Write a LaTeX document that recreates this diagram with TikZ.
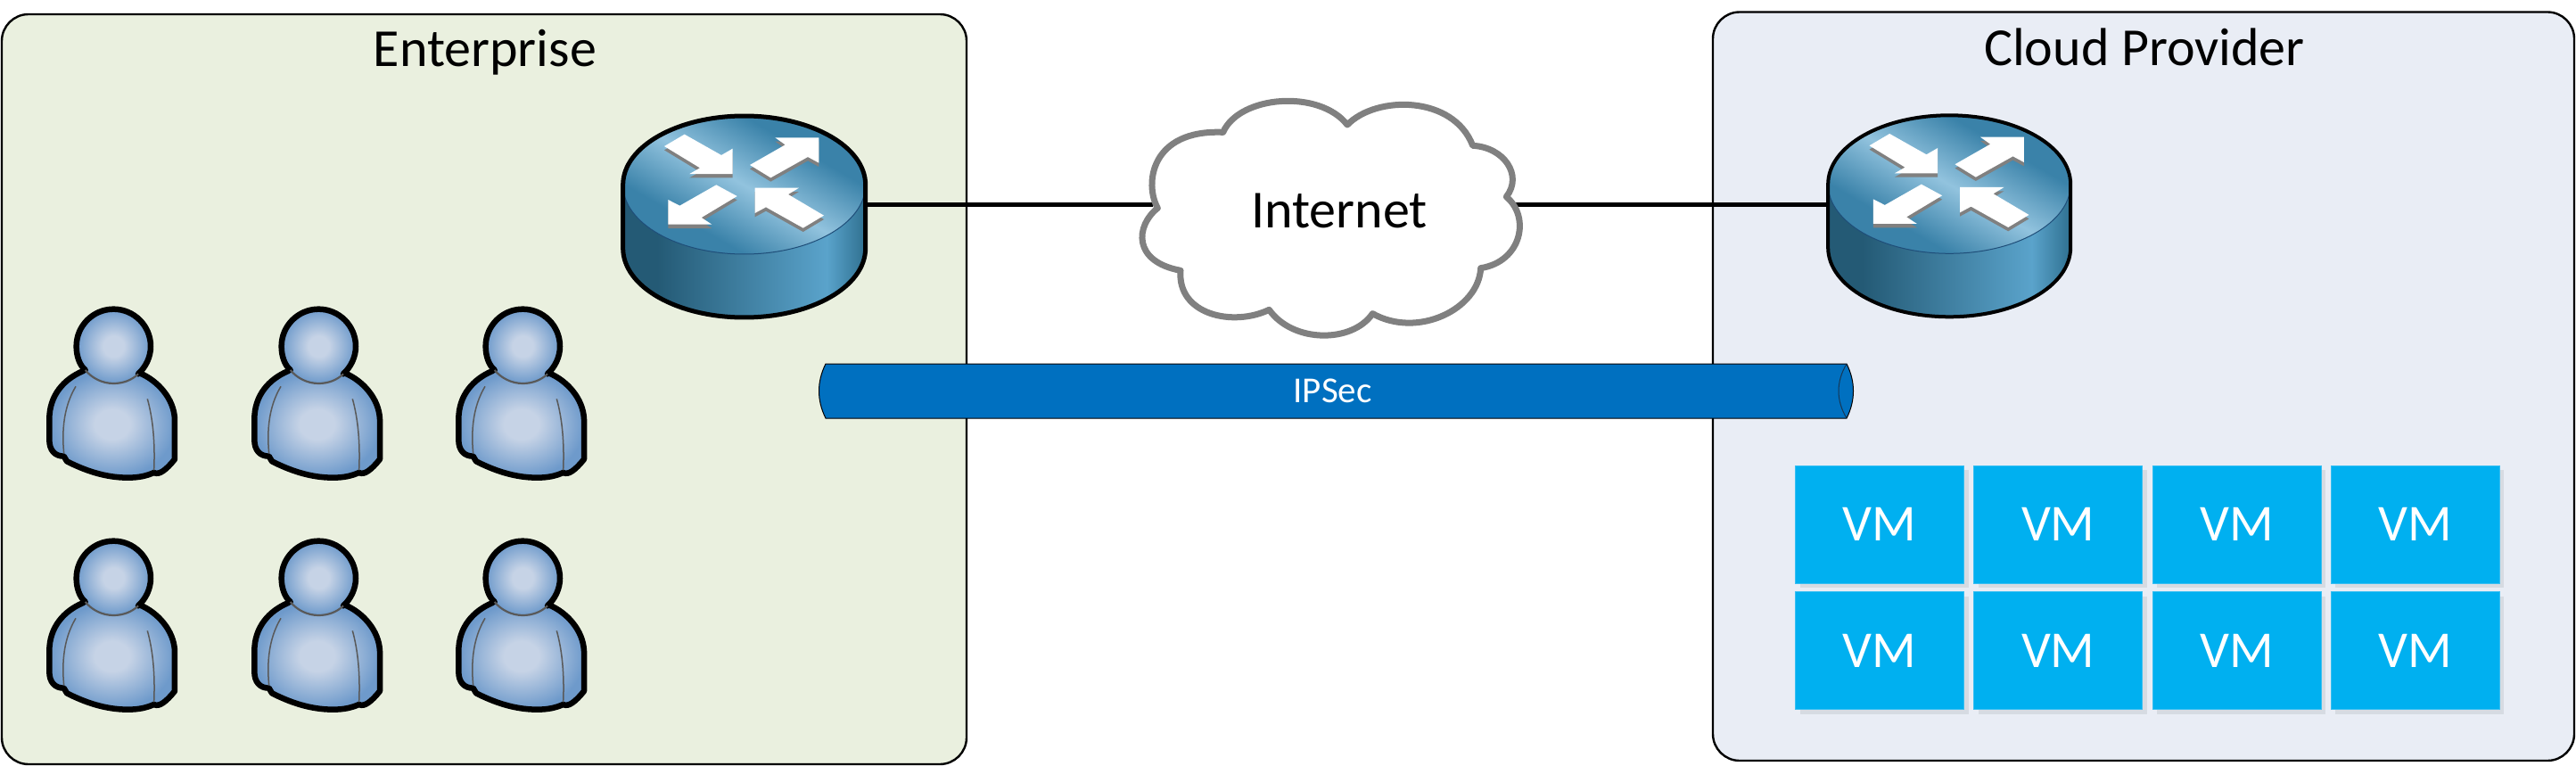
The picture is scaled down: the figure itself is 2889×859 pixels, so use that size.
\documentclass[tikz,border=0pt]{standalone}
\usepackage{fontspec}
\setmainfont{Carlito}
\usetikzlibrary{shadows}
\definecolor{entfill}{HTML}{EAF0DF}
\definecolor{cpfill}{HTML}{E9EDF5}
\definecolor{tubeblue}{HTML}{0070C0}
\definecolor{vmblue}{HTML}{00B0F0}
\definecolor{vmedge}{HTML}{38BFF2}
\definecolor{vmshadow}{HTML}{D6DBE2}
\definecolor{cloudgray}{HTML}{808080}
\definecolor{rdark}{HTML}{3A82A9}
\definecolor{rlight}{HTML}{92C3DE}
\definecolor{sidea}{HTML}{245A75}
\definecolor{sideb}{HTML}{5AA3CB}
\definecolor{sidec}{HTML}{2F7090}
\definecolor{rline}{HTML}{1F4E79}
\definecolor{pinner}{HTML}{C6D3E6}
\definecolor{pouter}{HTML}{6E9ACB}
\definecolor{pline}{HTML}{595959}
\pgfdeclareverticalshading{rtopsh}{100bp}{color(0bp)=(rdark); color(33bp)=(rdark); color(50bp)=(rlight); color(67bp)=(rdark); color(100bp)=(rdark)}
\pgfdeclarehorizontalshading{rsidesh}{100bp}{color(0bp)=(sidea); color(25bp)=(sidea); color(32bp)=(sidea); color(67bp)=(sideb); color(75bp)=(sidec); color(100bp)=(sidec)}
\pgfdeclareradialshading{persh}{\pgfpoint{0bp}{0bp}}{color(0bp)=(pinner); color(7bp)=(pinner); color(25bp)=(pouter); color(50bp)=(pouter)}
\tikzset{
  x=1pt,y=-1pt,
  region/.style={draw=black,line width=2.4pt,rounded corners=30pt,inner sep=0pt,outer sep=0pt},
  titletext/.style={anchor=base,font=\fontsize{60}{70}\selectfont,text=black,inner sep=0pt},
  vmbox/.style={draw=vmedge,line width=0.8pt,fill=vmblue,minimum width=189pt,minimum height=132pt,inner sep=0pt,text=white,font=\fontsize{58}{68}\selectfont,drop shadow={shadow xshift=5pt,shadow yshift=-5pt,fill=vmshadow,opacity=1}},
  hook/.style={inner sep=0pt,outer sep=0pt,minimum height=1pt},
  link/.style={draw=black,line width=5pt},
  arrowshadow/.style={fill=cloudgray},
  arrowface/.style={fill=white},
  router/.pic={
    \begin{scope}[scale=1/3]
      \path[shade,shading=rsidesh] (116,232) -- (116,445) .. controls (116,575) and (299,678) .. (524,678) .. controls (749,678) and (932,575) .. (932,445) -- (932,232) -- cycle;
      \path[shade,shading=rtopsh,shading angle=-30,draw=rline,line width=1pt] (116,232) .. controls (116,103) and (299,0) .. (524,0) .. controls (749,0) and (932,103) .. (932,232) .. controls (932,361) and (749,465) .. (524,465) .. controls (299,465) and (116,361) .. (116,232) -- cycle;
      \draw[black,line width=#1,line join=round] (116,445) -- (116,232) .. controls (116,103) and (299,0) .. (524,0) .. controls (749,0) and (932,103) .. (932,232) -- (932,445) .. controls (932,575) and (749,678) .. (524,678) .. controls (299,678) and (116,575) .. (116,445) -- cycle;
      \foreach \dy/\sty in {13/arrowshadow,0/arrowface}{
        \begin{scope}[yshift=-\dy*1pt]
        \fill[\sty] (255,102) -- (323,62) -- (447,132) -- (485,110) -- (485,195) -- (340,195) -- (375,175) -- cycle;
        \fill[\sty] (543,165) -- (662,97) -- (628,73) -- (775,73) -- (775,158) -- (738,138) -- (613,208) -- cycle;
        \fill[\sty] (500,270) -- (380,342) -- (415,365) -- (268,365) -- (268,282) -- (307,302) -- (430,232) -- cycle;
        \fill[\sty] (560,242) -- (708,242) -- (672,264) -- (792,335) -- (722,377) -- (597,307) -- (560,327) -- cycle;
        \end{scope}
      }
    \end{scope}
  },
  person/.pic={
    \begin{scope}[scale=1/3]
      \path[shade,shading=persh] (190,258) .. controls (125,285) and (76,340) .. (76,420) -- (76,490) .. controls (76,525) and (95,545) .. (125,545) -- (135,562) .. controls (190,590) and (260,617) .. (340,617) .. controls (380,617) and (405,610) .. (428,600) .. controls (445,610) and (470,590) .. (498,555) -- (498,420) .. controls (495,350) and (440,290) .. (380,265) -- cycle;
      \draw[black,line width=6.5pt,line join=round,line cap=round] (190,258) .. controls (125,285) and (76,340) .. (76,420) -- (76,490) .. controls (76,525) and (95,545) .. (125,545) -- (135,562) .. controls (190,590) and (260,617) .. (340,617) .. controls (380,617) and (405,610) .. (428,600) .. controls (445,610) and (470,590) .. (498,555) -- (498,420) .. controls (495,350) and (440,290) .. (380,265);
      \path[shade,shading=persh] (167,175) .. controls (167,106) and (223,50) .. (292,50) .. controls (361,50) and (417,106) .. (417,175) .. controls (417,244) and (361,300) .. (292,300) .. controls (223,300) and (167,244) .. (167,175) -- cycle;
      \draw[black,line width=6.5pt,line cap=round] (197,255) .. controls (177,238) and (167,207) .. (167,175) .. controls (167,106) and (223,50) .. (292,50) .. controls (361,50) and (417,106) .. (417,175) .. controls (417,212) and (400,245) .. (375,268);
      \draw[pline,line width=2.2pt] (197,255) .. controls (220,283) and (255,300) .. (292,300) .. controls (325,300) and (355,288) .. (375,268);
      \draw[pline,line width=1.5pt] (165,310) .. controls (135,360) and (115,430) .. (125,535);
      \draw[pline,line width=1.5pt] (406,352) .. controls (425,420) and (432,500) .. (428,592);
    \end{scope}
  },
}
\begin{document}
\begin{tikzpicture}
\useasboundingbox (0,0) rectangle (2889,859);
\node[region,fill=entfill,minimum width=1082pt,minimum height=841pt] (ent) at (543,436.5) {};
\node[region,fill=cpfill,minimum width=966pt,minimum height=839.5pt] (cp) at (2404,433.25) {};
\node[titletext] (enttitle) at (544,74.5) {Enterprise};
\node[titletext] (cptitle) at (2405,73.5) {Cloud Provider};
% connector anchors
\node[hook,minimum width=272pt] (r1) at (834,229) {};
\node[hook,minimum width=407pt] (net) at (1496.5,229) {};
\node[hook,minimum width=272pt] (r2) at (2185.5,229) {};
\draw[link] (r1.east) -- (net.west);
\draw[link] (net.east) -- (r2.west);
% routers
\pic (routerA) at (660,130) {router=5pt};
\pic (routerB) at (2011.5,129.3) {router=4pt};
% cloud
\begin{scope}[shift={(1250,90)},scale=1/3]
\draw[cloudgray,fill=white,line width=7pt,line join=round]
 (145,430) .. controls (100,350) and (120,165) .. (365,175)
 .. controls (420,50) and (690,30) .. (783,150)
 .. controls (880,50) and (1140,50) .. (1205,220)
 .. controls (1310,225) and (1375,320) .. (1318,392)
 .. controls (1400,460) and (1370,610) .. (1232,632)
 .. controls (1225,770) and (1020,870) .. (868,785)
 .. controls (800,885) and (600,885) .. (520,772)
 .. controls (400,830) and (210,790) .. (222,640)
 .. controls (60,610) and (70,490) .. (145,430) -- cycle;
\end{scope}
\node[anchor=base,font=\fontsize{60}{70}\selectfont,inner sep=0pt] (nettext) at (1502,255) {Internet};
% tunnel
\draw[black,line width=1pt,fill=tubeblue]
 (926,408) .. controls (916,428) and (916,449) .. (926,469) -- (2071,469)
 .. controls (2081,449) and (2081,428) .. (2071,408) -- cycle;
\draw[rline!70!black,line width=1pt] (2071,408) .. controls (2059,428) and (2059,449) .. (2071,469);
\node[anchor=base,font=\fontsize{41}{48}\selectfont,text=white,inner sep=0pt] (ipsec) at (1494.5,451) {IPSec};
% users
\pic (userA) at (30,330) {person};
\pic (userB) at (260,330) {person};
\pic (userC) at (489,330) {person};
\pic (userD) at (30,590) {person};
\pic (userE) at (260,590) {person};
\pic (userF) at (489,590) {person};
% VMs
\node[vmbox] (vmA) at (2108,588) {VM};
\node[vmbox] (vmB) at (2308.3,588) {VM};
\node[vmbox] (vmC) at (2508.6,588) {VM};
\node[vmbox] (vmD) at (2708.9,588) {VM};
\node[vmbox] (vmE) at (2108,729.7) {VM};
\node[vmbox] (vmF) at (2308.3,729.7) {VM};
\node[vmbox] (vmG) at (2508.6,729.7) {VM};
\node[vmbox] (vmH) at (2708.9,729.7) {VM};
\end{tikzpicture}
\end{document}
